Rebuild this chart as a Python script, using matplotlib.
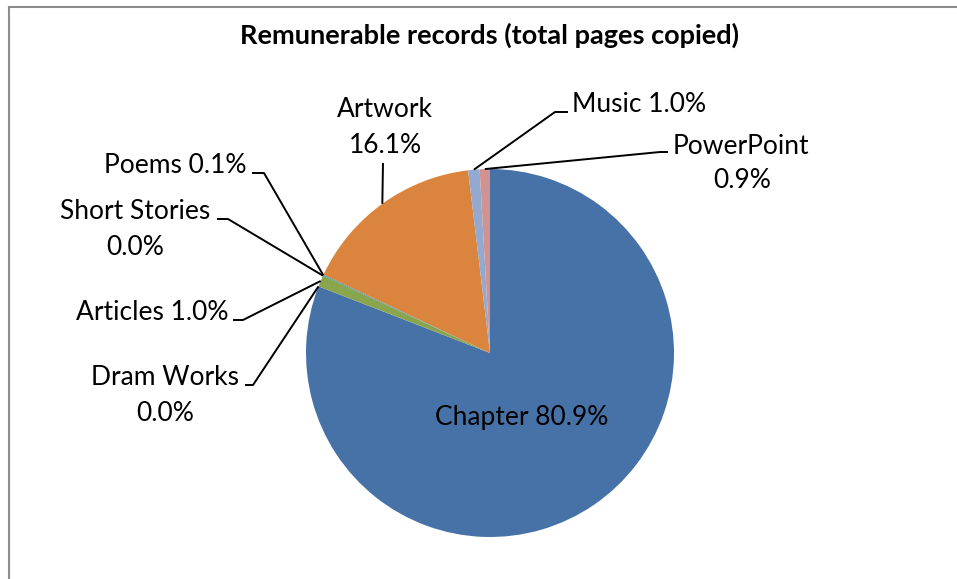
import matplotlib
matplotlib.use("Agg")
import matplotlib.pyplot as plt
import numpy as np

# ---- data ----
categories = ["Chapter", "Dram Works", "Articles", "Short Stories",
              "Poems", "Artwork", "Music", "PowerPoint"]
values = [80.9, 0.0, 1.0, 0.0, 0.1, 16.1, 1.0, 0.9]
colors = ["#4672A8", "#AA4643", "#89A54E", "#71588F",
          "#4198AF", "#DB843D", "#93A9CF", "#D19392"]
title = "Remunerable records (total pages copied)"

W, H = 957, 579
fig = plt.figure(figsize=(W / 100, H / 100), dpi=100)
ax = fig.add_axes([0, 0, 1, 1])

def Y(y):
    return H - y

cx, cy, r = 490, 353, 184
wedges, _ = ax.pie(values, colors=colors, startangle=90, counterclock=False,
                   radius=r, center=(cx, Y(cy)),
                   wedgeprops=dict(linewidth=0))
ax.set_xlim(0, W)
ax.set_ylim(0, H)
ax.set_aspect("auto")
ax.axis("off")

FONT = "Lato"
FS = 19

def edge(i):
    w = wedges[i]
    a = np.deg2rad((w.theta1 + w.theta2) / 2)
    return (w.center[0] + r * np.cos(a), w.center[1] + r * np.sin(a))

# layout: (lines as (x, baseline_y, ha)), leader elbow points (image coords)
layout = {
    "Chapter": dict(two=False, pos=[(522, 425, "center")], lead=None),
    "Dram Works": dict(two=True, pos=[(165, 385, "center"), (165, 421, "center")],
                       lead=[(245, 385), (253, 385)]),
    "Articles": dict(two=False, pos=[(228, 320, "right")],
                     lead=[(233, 320), (243, 320)]),
    "Short Stories": dict(two=True, pos=[(135, 219, "center"), (135, 255, "center")],
                          lead=[(217, 219), (228, 219)]),
    "Poems": dict(two=False, pos=[(246, 173, "right")],
                  lead=[(252, 173), (264, 173)]),
    "Artwork": dict(two=True, pos=[(385, 117, "center"), (385, 153, "center")],
                    lead=[(383, 163)]),
    "Music": dict(two=False, pos=[(572, 112, "left")],
                  lead=[(568, 112), (555, 112)]),
    "PowerPoint": dict(two=True, pos=[(741, 154, "center"), (742, 188, "center")],
                       lead=[(668, 152), (660, 152)]),
}

for i, (cat, val) in enumerate(zip(categories, values)):
    L = layout[cat]
    pct = f"{val:.1f}%"
    texts = [cat, pct] if L["two"] else [f"{cat} {pct}"]
    for t, (x, y, ha) in zip(texts, L["pos"]):
        ax.text(x, Y(y), t, ha=ha, va="baseline", fontsize=FS,
                family=FONT, color="black")
    if L["lead"]:
        pts = [(x, Y(y)) for x, y in L["lead"]] + [edge(i)]
        xs, ys = zip(*pts)
        ax.plot(xs, ys, color="black", lw=1.4, solid_capstyle="butt",
                clip_on=False)

ax.text(490, Y(44), title, ha="center", va="baseline", fontsize=19.5,
        fontweight="bold", family=FONT, color="black")

# chart frame (left & top edges visible)
ax.plot([9, 9], [Y(7), -5], color="#8C8C8C", lw=1.5, clip_on=False)
ax.plot([9, W + 5], [Y(7), Y(7)], color="#8C8C8C", lw=1.5, clip_on=False)

fig.savefig("out.png", dpi=100)
